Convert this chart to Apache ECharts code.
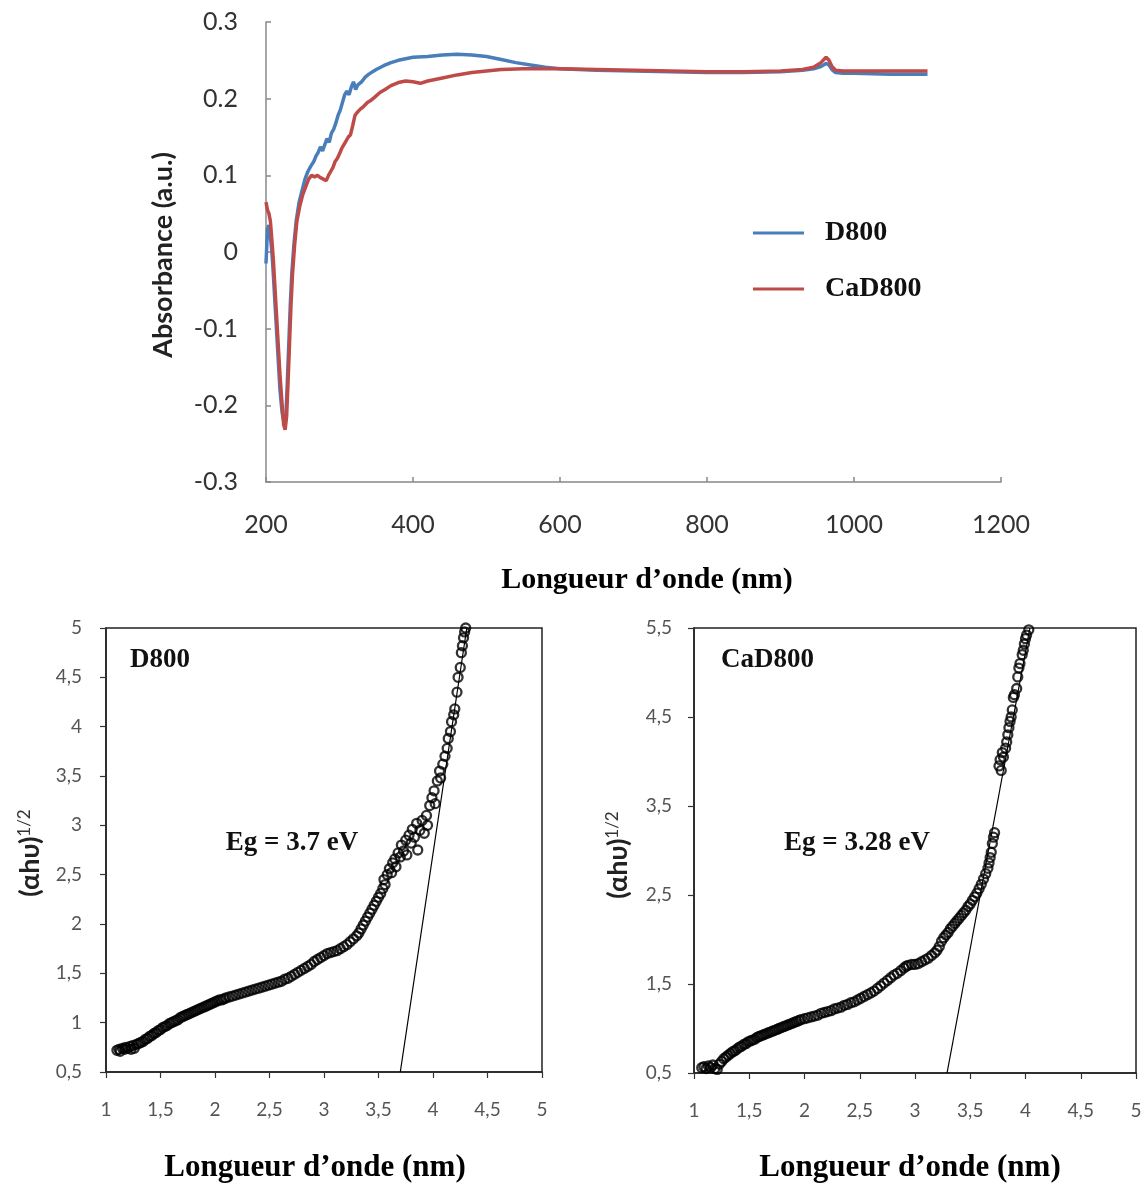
<!DOCTYPE html>
<html>
<head>
<meta charset="utf-8">
<script src="https://cdn.jsdelivr.net/npm/echarts@6/dist/echarts.min.js"></script>
<style>
  html, body { margin: 0; padding: 0; background: #fff; }
  #chart { width: 1145px; height: 1184px; }
</style>
</head>
<body>
<div id="chart"></div>
<script>
// UV-Vis absorbance spectra: [wavelength (nm), absorbance (a.u.)]
const absD800 = [
  [200,-0.015],[202,0.03],[204,0.035],[206,0.02],[208,0.0],[210,-0.03],[213,-0.08],[216,-0.13],
  [219,-0.18],[222,-0.21],[225,-0.225],[227,-0.215],[229,-0.17],[231,-0.12],[233,-0.07],[235,-0.03],
  [238,0.01],[241,0.04],[245,0.065],[249,0.08],[253,0.095],[257,0.105],[261,0.112],[265,0.118],
  [268,0.125],[271,0.13],[274,0.137],[277,0.132],[280,0.14],[283,0.148],[286,0.143],[289,0.155],
  [292,0.16],[295,0.168],[298,0.178],[301,0.185],[304,0.195],[307,0.205],[310,0.21],[313,0.205],
  [316,0.215],[319,0.222],[322,0.212],[325,0.218],[330,0.222],[335,0.228],[340,0.232],[345,0.235],
  [350,0.238],[360,0.243],[370,0.247],[380,0.25],[390,0.252],[400,0.254],[420,0.255],[440,0.257],
  [460,0.258],[480,0.257],[500,0.255],[520,0.251],[540,0.247],[560,0.244],[580,0.241],[600,0.239],
  [650,0.237],[700,0.236],[750,0.235],[800,0.234],[850,0.234],[900,0.235],[930,0.237],[945,0.239],
  [955,0.242],[962,0.246],[966,0.244],[970,0.238],[975,0.234],[985,0.233],[1000,0.233],[1050,0.232],
  [1100,0.232]
];
const absCaD800 = [
  [200,0.065],[202,0.055],[204,0.05],[206,0.04],[208,0.015],[210,-0.01],[213,-0.06],[216,-0.11],
  [219,-0.16],[222,-0.2],[224,-0.225],[226,-0.232],[228,-0.215],[230,-0.17],[232,-0.12],[234,-0.07],
  [236,-0.03],[239,0.01],[242,0.04],[246,0.06],[250,0.075],[254,0.085],[258,0.095],[262,0.1],
  [266,0.098],[270,0.1],[274,0.097],[278,0.095],[282,0.093],[285,0.1],[288,0.105],[291,0.11],
  [294,0.118],[297,0.122],[300,0.128],[303,0.135],[306,0.14],[309,0.145],[312,0.15],[315,0.153],
  [318,0.165],[321,0.178],[324,0.182],[328,0.186],[333,0.19],[338,0.195],[343,0.198],[348,0.202],
  [355,0.208],[362,0.212],[370,0.217],[380,0.221],[390,0.223],[400,0.222],[410,0.22],[420,0.223],
  [440,0.227],[460,0.231],[480,0.234],[500,0.236],[520,0.238],[550,0.239],[600,0.239],[650,0.238],
  [700,0.237],[750,0.236],[800,0.235],[850,0.235],[900,0.236],[930,0.238],[945,0.241],[955,0.247],
  [962,0.254],[966,0.25],[970,0.242],[975,0.237],[985,0.236],[1000,0.236],[1050,0.236],[1100,0.236]
];

// Tauc plots: [photon energy, (αhυ)^1/2]
const taucD800 = [
  [1.10,0.72],[1.12,0.73],[1.13,0.71],[1.15,0.74],[1.17,0.73],[1.18,0.75],[1.20,0.74],[1.22,0.76],
  [1.23,0.73],[1.25,0.77],[1.26,0.74],[1.28,0.78],[1.30,0.79],[1.32,0.80],[1.34,0.81],[1.36,0.83],
  [1.38,0.84],[1.40,0.86],[1.42,0.87],[1.44,0.89],[1.46,0.90],[1.48,0.92],[1.50,0.93],[1.52,0.95],
  [1.54,0.96],[1.56,0.97],[1.58,0.99],[1.60,1.00],[1.62,1.01],[1.64,1.02],[1.66,1.03],[1.68,1.05],
  [1.70,1.06],[1.72,1.07],[1.74,1.08],[1.76,1.09],[1.78,1.10],[1.80,1.11],[1.82,1.12],[1.84,1.13],
  [1.86,1.14],[1.88,1.15],[1.90,1.16],[1.92,1.17],[1.94,1.18],[1.96,1.19],[1.98,1.20],[2.00,1.21],
  [2.02,1.22],[2.04,1.23],[2.06,1.23],[2.08,1.24],[2.10,1.25],[2.13,1.26],[2.16,1.27],[2.19,1.28],
  [2.22,1.29],[2.25,1.30],[2.28,1.31],[2.31,1.32],[2.34,1.33],[2.37,1.34],[2.40,1.35],[2.43,1.36],
  [2.46,1.37],[2.49,1.38],[2.52,1.39],[2.55,1.40],[2.58,1.41],[2.61,1.42],[2.64,1.44],[2.67,1.45],
  [2.70,1.47],[2.73,1.49],[2.76,1.51],[2.79,1.53],[2.82,1.55],[2.85,1.57],[2.88,1.59],[2.91,1.62],
  [2.94,1.64],[2.97,1.66],[3.00,1.68],[3.03,1.70],[3.06,1.71],[3.09,1.72],[3.12,1.73],[3.15,1.75],
  [3.18,1.77],[3.21,1.79],[3.24,1.82],[3.27,1.85],[3.30,1.88],[3.32,1.91],[3.34,1.95],[3.36,1.99],
  [3.38,2.03],[3.40,2.07],[3.42,2.11],[3.44,2.15],[3.46,2.19],[3.48,2.23],[3.50,2.27],[3.52,2.31],
  [3.54,2.36],[3.55,2.45],[3.56,2.40],[3.58,2.50],[3.60,2.56],[3.62,2.52],[3.63,2.62],[3.65,2.66],
  [3.66,2.58],[3.68,2.72],[3.70,2.68],[3.71,2.80],[3.73,2.74],[3.75,2.85],[3.76,2.70],[3.78,2.90],
  [3.80,2.82],[3.81,2.96],[3.83,2.88],[3.85,3.02],[3.86,2.75],[3.88,2.95],[3.90,3.05],[3.92,2.92],
  [3.94,3.10],[3.95,3.00],[3.97,3.20],[3.99,3.28],[4.01,3.35],[4.02,3.22],[4.04,3.45],[4.06,3.55],
  [4.07,3.48],[4.09,3.62],[4.11,3.70],[4.13,3.78],[4.14,3.88],[4.16,3.95],[4.17,4.05],[4.19,4.12],
  [4.20,4.18],[4.22,4.35],[4.23,4.50],[4.25,4.60],[4.26,4.75],[4.27,4.82],[4.28,4.90],[4.29,4.96],
  [4.30,5.00]
];
const taucCaD800 = [
  [1.07,0.56],[1.09,0.57],[1.11,0.55],[1.13,0.58],[1.15,0.56],[1.17,0.59],[1.19,0.55],[1.21,0.54],
  [1.23,0.60],[1.25,0.63],[1.27,0.66],[1.29,0.68],[1.31,0.70],[1.33,0.72],[1.35,0.74],[1.37,0.75],
  [1.39,0.77],[1.41,0.79],[1.43,0.80],[1.45,0.82],[1.47,0.83],[1.49,0.85],[1.51,0.86],[1.53,0.87],
  [1.55,0.88],[1.57,0.90],[1.59,0.91],[1.61,0.92],[1.63,0.93],[1.65,0.94],[1.67,0.95],[1.69,0.96],
  [1.71,0.97],[1.73,0.98],[1.75,0.99],[1.77,1.00],[1.79,1.01],[1.81,1.02],[1.83,1.03],[1.85,1.04],
  [1.87,1.05],[1.89,1.06],[1.91,1.07],[1.93,1.08],[1.95,1.09],[1.97,1.10],[2.00,1.11],[2.03,1.12],
  [2.06,1.13],[2.09,1.14],[2.12,1.15],[2.15,1.17],[2.18,1.18],[2.21,1.19],[2.24,1.20],[2.27,1.22],
  [2.30,1.23],[2.33,1.24],[2.36,1.26],[2.39,1.27],[2.42,1.29],[2.45,1.30],[2.48,1.32],[2.51,1.34],
  [2.54,1.36],[2.57,1.38],[2.60,1.40],[2.63,1.42],[2.66,1.45],[2.69,1.48],[2.72,1.51],[2.75,1.54],
  [2.78,1.57],[2.81,1.60],[2.84,1.62],[2.87,1.65],[2.90,1.68],[2.92,1.70],[2.94,1.71],[2.97,1.72],
  [3.00,1.72],[3.03,1.73],[3.06,1.75],[3.09,1.77],[3.12,1.79],[3.15,1.82],[3.18,1.85],[3.20,1.88],
  [3.22,1.92],[3.24,1.98],[3.26,2.02],[3.28,2.05],[3.30,2.08],[3.32,2.12],[3.34,2.15],[3.36,2.18],
  [3.38,2.21],[3.40,2.24],[3.42,2.27],[3.44,2.30],[3.46,2.33],[3.48,2.37],[3.50,2.40],[3.52,2.44],
  [3.54,2.48],[3.56,2.52],[3.58,2.57],[3.60,2.62],[3.62,2.68],[3.64,2.74],[3.66,2.80],[3.67,2.86],
  [3.68,2.92],[3.69,2.98],[3.70,3.08],[3.71,3.15],[3.72,3.20],[3.76,3.95],[3.77,4.02],[3.78,3.90],
  [3.79,4.10],[3.80,4.05],[3.82,4.15],[3.83,4.22],[3.84,4.30],[3.85,4.38],[3.86,4.45],[3.87,4.50],
  [3.88,4.58],[3.89,4.72],[3.90,4.75],[3.92,4.82],[3.93,4.95],[3.94,5.05],[3.95,5.10],[3.97,5.20],
  [3.98,5.25],[3.99,5.32],[4.00,5.38],[4.01,5.42],[4.03,5.48]
];

// Linear fits of the absorption edge (x-intercept gives Eg)
const fitD800 = [[3.70,0.5],[4.31,5.0]];
const fitCaD800 = [[3.29,0.5],[4.04,5.5]];

const seriesNames = ['D800', 'CaD800'];
const lineColors = ['#4a7ebb', '#be4b48'];
const xTitle = 'Longueur d\u2019onde (nm)';

const chart = echarts.init(document.getElementById('chart'), null, { renderer: 'canvas' });

const SANS = 'Lato';
const SERIF = '"Liberation Serif", "Times New Roman", serif';
const comma = v => String(+v.toFixed(2)).replace('.', ',');

const topAxisLine = { onZero: false, lineStyle: { color: '#888888', width: 1.5 } };
const topTick = { inside: true, length: 5, lineStyle: { color: '#888888', width: 1.5 } };
const topLabel = { color: '#333', fontFamily: SANS, fontSize: 25 };

const boxAxisLine = { onZero: false, lineStyle: { color: '#222', width: 1.5 } };
const boxTick = { inside: false, length: 6, lineStyle: { color: '#333', width: 1.2 } };
const boxLabel = { color: '#555', fontFamily: SANS, fontSize: 19, formatter: comma };

const scatterStyle = {
  symbol: 'circle',
  symbolSize: 9,
  itemStyle: { color: 'rgba(0,0,0,0)', borderColor: '#000', borderWidth: 2.3 }
};

const yTitleRich = {
  b: { font: 'bold 27px ' + SANS, fill: '#222', verticalAlign: 'bottom' },
  s: { font: '17px ' + SANS, fill: '#333', verticalAlign: 'top' }
};

const option = {
  backgroundColor: '#fff',
  animation: false,
  legend: {
    data: seriesNames,
    orient: 'vertical',
    left: 748,
    top: 214,
    itemWidth: 51,
    itemHeight: 3,
    itemGap: 28,
    icon: 'rect',
    textStyle: { fontFamily: SERIF, fontWeight: 'bold', fontSize: 28, color: '#111', lineHeight: 28, padding: [0, 0, 0, 16] }
  },
  grid: [
    { left: 266, top: 22, width: 735, height: 460 },
    { left: 106, top: 628, width: 436, height: 444, show: true, borderColor: '#222', borderWidth: 1.5 },
    { left: 694, top: 628, width: 442, height: 445, show: true, borderColor: '#222', borderWidth: 1.5 }
  ],
  xAxis: [
    { gridIndex: 0, type: 'value', min: 200, max: 1200, interval: 200,
      axisLine: topAxisLine, axisTick: topTick, splitLine: { show: false },
      axisLabel: Object.assign({ margin: 30, formatter: v => String(v) }, topLabel) },
    { gridIndex: 1, type: 'value', min: 1, max: 5, interval: 0.5,
      axisLine: boxAxisLine, axisTick: boxTick, splitLine: { show: false },
      axisLabel: Object.assign({ margin: 28 }, boxLabel) },
    { gridIndex: 2, type: 'value', min: 1, max: 5, interval: 0.5,
      axisLine: boxAxisLine, axisTick: boxTick, splitLine: { show: false },
      axisLabel: Object.assign({ margin: 28 }, boxLabel) }
  ],
  yAxis: [
    { gridIndex: 0, type: 'value', min: -0.3, max: 0.3, interval: 0.1,
      axisLine: topAxisLine, axisTick: topTick, splitLine: { show: false },
      axisLabel: Object.assign({ margin: 28, formatter: v => String(+v.toFixed(1)) }, topLabel) },
    { gridIndex: 1, type: 'value', min: 0.5, max: 5, interval: 0.5,
      axisLine: boxAxisLine, axisTick: boxTick, splitLine: { show: false },
      axisLabel: Object.assign({ margin: 24 }, boxLabel) },
    { gridIndex: 2, type: 'value', min: 0.5, max: 5.5, interval: 1,
      axisLine: boxAxisLine, axisTick: boxTick, splitLine: { show: false },
      axisLabel: Object.assign({ margin: 22 }, boxLabel) }
  ],
  series: [
    { name: seriesNames[0], type: 'line', xAxisIndex: 0, yAxisIndex: 0, data: absD800,
      showSymbol: false, lineStyle: { color: lineColors[0], width: 3.5 }, itemStyle: { color: lineColors[0] } },
    { name: seriesNames[1], type: 'line', xAxisIndex: 0, yAxisIndex: 0, data: absCaD800,
      showSymbol: false, lineStyle: { color: lineColors[1], width: 3.5 }, itemStyle: { color: lineColors[1] } },
    Object.assign({ type: 'scatter', xAxisIndex: 1, yAxisIndex: 1, data: taucD800 }, scatterStyle),
    { type: 'line', xAxisIndex: 1, yAxisIndex: 1, data: fitD800, showSymbol: false,
      lineStyle: { color: '#000', width: 1.2 } },
    Object.assign({ type: 'scatter', xAxisIndex: 2, yAxisIndex: 2, data: taucCaD800 }, scatterStyle),
    { type: 'line', xAxisIndex: 2, yAxisIndex: 2, data: fitCaD800, showSymbol: false,
      lineStyle: { color: '#000', width: 1.2 } }
  ],
  graphic: [
    // axis titles
    { type: 'text', x: 163, y: 255, rotation: Math.PI / 2,
      style: { text: 'Absorbance (a.u.)', font: 'bold 27px ' + SANS, fill: '#222', textAlign: 'center', textVerticalAlign: 'middle' } },
    { type: 'text', x: 647, y: 580,
      style: { text: xTitle, font: 'bold 30px ' + SERIF, fill: '#000', textAlign: 'center', textVerticalAlign: 'middle' } },
    { type: 'text', x: 315, y: 1168,
      style: { text: xTitle, font: 'bold 31px ' + SERIF, fill: '#000', textAlign: 'center', textVerticalAlign: 'middle' } },
    { type: 'text', x: 910, y: 1168,
      style: { text: xTitle, font: 'bold 31px ' + SERIF, fill: '#000', textAlign: 'center', textVerticalAlign: 'middle' } },
    { type: 'text', x: 30, y: 853, rotation: Math.PI / 2,
      style: { text: '{b|(αhυ)}{s|1/2}', textAlign: 'center', textVerticalAlign: 'middle', rich: yTitleRich } },
    { type: 'text', x: 618, y: 855, rotation: Math.PI / 2,
      style: { text: '{b|(αhυ)}{s|1/2}', textAlign: 'center', textVerticalAlign: 'middle', rich: yTitleRich } },
    // panel labels
    { type: 'text', x: 130, y: 660,
      style: { text: 'D800', font: 'bold 27px ' + SERIF, fill: '#111', textAlign: 'left', textVerticalAlign: 'middle' } },
    { type: 'text', x: 721, y: 660,
      style: { text: 'CaD800', font: 'bold 27px ' + SERIF, fill: '#111', textAlign: 'left', textVerticalAlign: 'middle' } },
    { type: 'text', x: 292, y: 843,
      style: { text: 'Eg = 3.7 eV', font: 'bold 27px ' + SERIF, fill: '#111', textAlign: 'center', textVerticalAlign: 'middle' } },
    { type: 'text', x: 857, y: 843,
      style: { text: 'Eg = 3.28 eV', font: 'bold 27px ' + SERIF, fill: '#111', textAlign: 'center', textVerticalAlign: 'middle' } }
  ]
};

chart.setOption(option);
</script>
</body>
</html>
